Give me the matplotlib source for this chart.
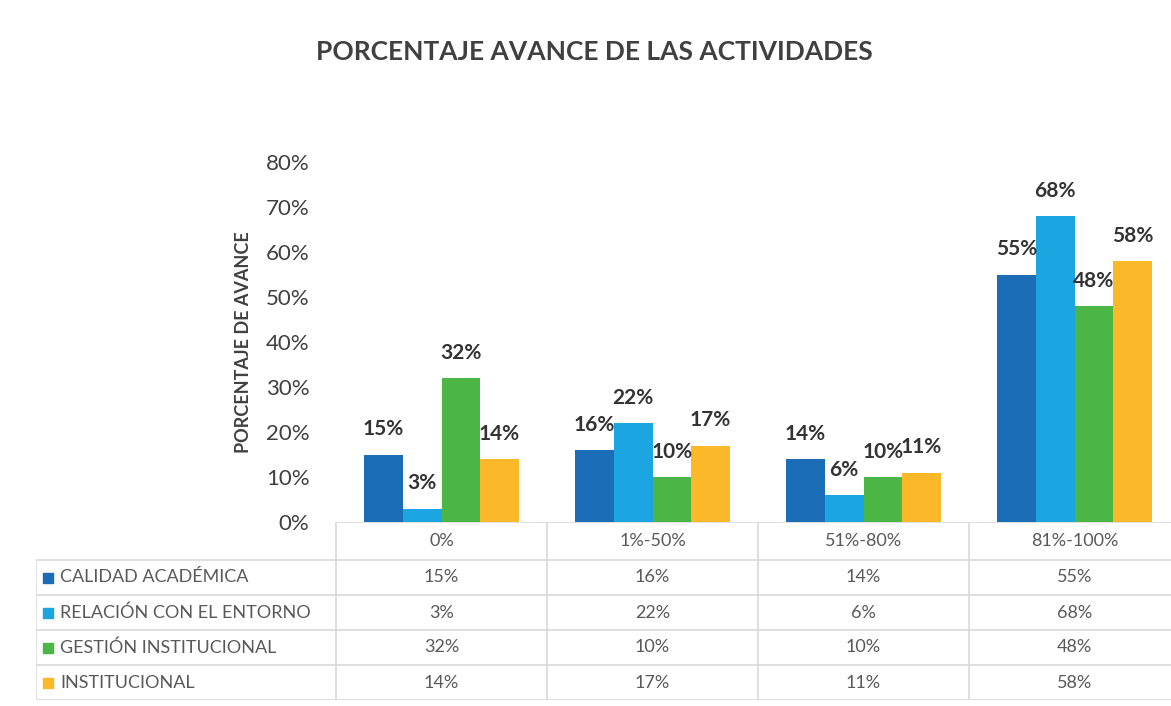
import numpy as np
import matplotlib.pyplot as plt

plt.rcParams['font.family'] = ['Lato', 'DejaVu Sans']

# datos
categorias = ['0%', '1%-50%', '51%-80%', '81%-100%']
series = ['CALIDAD ACADÉMICA', 'RELACIÓN CON EL ENTORNO', 'GESTIÓN INSTITUCIONAL', 'INSTITUCIONAL']
calidad = [15, 16, 14, 55]
relacion = [3, 22, 6, 68]
gestion = [32, 10, 10, 48]
institucional = [14, 17, 11, 58]
colores = ['#1b6db7', '#1ba6e2', '#4bb645', '#fbb828']

valores = [calidad, relacion, gestion, institucional]

W, H = 1171, 706
fig = plt.figure(figsize=(W / 100, H / 100), dpi=100)
# zona del gráfico (en píxeles): eje y desde 336, ancho de categoría 211
ax = fig.add_axes([336 / W, 1 - 522 / H, 4 * 211 / W, (522 - 162) / H])

x = np.arange(len(categorias))
w = 0.183
for k, (nombre, vals, c) in enumerate(zip(series, valores, colores)):
    bars = ax.bar(x + (k - 1.5) * w, np.array(vals) / 100, w, color=c, label=nombre)
    ax.bar_label(bars, labels=[f'{v}%' for v in vals], padding=11,
                 fontsize=15, fontweight='bold', color='#333333')

ax.set_xlim(-0.5, 3.5)
ax.set_ylim(0, 0.8)
yt = np.arange(0, 0.81, 0.1)
ax.set_yticks(yt)
ax.set_yticklabels([f'{int(round(t * 100))}%' for t in yt], fontsize=16, color='#404040')
ax.tick_params(axis='y', length=0, pad=19)
ax.set_xticks([])
for s in ax.spines.values():
    s.set_visible(False)
ax.set_ylabel('PORCENTAJE DE AVANCE', fontsize=13, fontweight='bold', color='#404040',
              labelpad=10)

fig.text(594 / W, 1 - 52 / H, 'PORCENTAJE AVANCE DE LAS ACTIVIDADES', ha='center', va='center',
         fontsize=19, fontweight='bold', color='#404040')

# tabla de datos debajo del gráfico
left_px = 36
x0 = -0.5 - (336 - left_px) / 211
tx = fig.add_axes([left_px / W, 1 - 700 / H, (336 + 4 * 211 - left_px) / W, (700 - 522) / H])
filas = np.array([0, 38, 73, 108, 143, 178])
tx.set_xlim(x0, 3.5)
tx.set_ylim(filas[-1], 0)
tx.axis('off')
lc = '#d9d9d9'
tc = '#595959'
tx.plot([-0.5, 3.5], [0, 0], color=lc, lw=1.2)
for r in filas[1:]:
    tx.plot([x0, 3.5], [r, r], color=lc, lw=1.2)
tx.plot([x0, x0], [filas[1], filas[-1]], color=lc, lw=1.2)
for b in np.arange(-0.5, 3.6, 1):
    tx.plot([b, b], [0, filas[-1]], color=lc, lw=1.2)
centros = (filas[:-1] + filas[1:]) / 2
for i, cat in enumerate(categorias):
    tx.text(i, centros[0], cat, ha='center', va='center', fontsize=13, color=tc)
for k, (nombre, vals, c) in enumerate(zip(series, valores, colores)):
    yc = centros[k + 1]
    tx.scatter([x0 + 0.059], [yc], marker='s', s=60, color=c)
    tx.text(x0 + 0.114, yc, nombre, ha='left', va='center', fontsize=13, color=tc)
    for i, v in enumerate(vals):
        tx.text(i, yc, f'{v}%', ha='center', va='center', fontsize=13, color=tc)

fig.savefig('out.png', dpi=100)
